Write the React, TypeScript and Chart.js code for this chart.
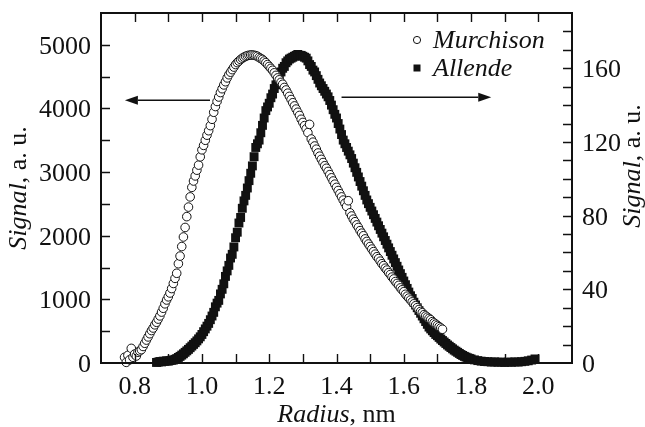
import React, { useEffect, useRef } from "react";
import { Chart, registerables } from "chart.js";

Chart.register(...registerables);

// ---------- data ----------
const murchisonRadius = [
  0.77, 0.775, 0.78, 0.785, 0.79, 0.795, 0.8, 0.805, 0.81, 0.815,
  0.82, 0.825, 0.83, 0.835, 0.84, 0.845, 0.85, 0.855, 0.86, 0.865,
  0.87, 0.875, 0.88, 0.885, 0.89, 0.895, 0.9, 0.905, 0.91, 0.915,
  0.92, 0.925, 0.93, 0.935, 0.94, 0.945, 0.95, 0.955, 0.96, 0.965,
  0.97, 0.975, 0.98, 0.985, 0.99, 0.995, 1.0, 1.005, 1.01, 1.015,
  1.02, 1.025, 1.03, 1.035, 1.04, 1.045, 1.05, 1.055, 1.06, 1.065,
  1.07, 1.075, 1.08, 1.085, 1.09, 1.095, 1.1, 1.105, 1.11, 1.115,
  1.12, 1.125, 1.13, 1.135, 1.14, 1.145, 1.15, 1.155, 1.16, 1.165,
  1.17, 1.175, 1.18, 1.185, 1.19, 1.195, 1.2, 1.205, 1.21, 1.215,
  1.22, 1.225, 1.23, 1.235, 1.24, 1.245, 1.25, 1.255, 1.26, 1.265,
  1.27, 1.275, 1.28, 1.285, 1.29, 1.295, 1.3, 1.305, 1.31, 1.315,
  1.32, 1.325, 1.33, 1.335, 1.34, 1.345, 1.35, 1.355, 1.36, 1.365,
  1.37, 1.375, 1.38, 1.385, 1.39, 1.395, 1.4, 1.405, 1.41, 1.415,
  1.42, 1.425, 1.43, 1.435, 1.44, 1.445, 1.45, 1.455, 1.46, 1.465,
  1.47, 1.475, 1.48, 1.485, 1.49, 1.495, 1.5, 1.505, 1.51, 1.515,
  1.52, 1.525, 1.53, 1.535, 1.54, 1.545, 1.55, 1.555, 1.56, 1.565,
  1.57, 1.575, 1.58, 1.585, 1.59, 1.595, 1.6, 1.605, 1.61, 1.615,
  1.62, 1.625, 1.63, 1.635, 1.64, 1.645, 1.65, 1.655, 1.66, 1.665,
  1.67, 1.675, 1.68, 1.685, 1.69, 1.695, 1.7, 1.705, 1.71, 1.715,
];
const murchisonSignal = [
  90, 10, 120, 50, 230, 90, 140, 110, 170, 190,
  210, 260, 310, 360, 410, 460, 510, 550, 600, 640,
  690, 740, 800, 860, 930, 990, 1040, 1100, 1170, 1250,
  1330, 1410, 1560, 1680, 1830, 1980, 2130, 2300, 2450, 2610,
  2760, 2860, 2940, 3030, 3110, 3240, 3350, 3420, 3500, 3580,
  3650, 3730, 3830, 3940, 4030, 4110, 4180, 4250, 4310, 4370,
  4420, 4480, 4530, 4570, 4610, 4650, 4690, 4720, 4745, 4770,
  4790, 4805, 4820, 4830, 4835, 4840, 4840, 4835, 4830, 4820,
  4800, 4785, 4770, 4745, 4720, 4690, 4660, 4630, 4600, 4560,
  4520, 4480, 4450, 4410, 4380, 4330, 4290, 4240, 4190, 4140,
  4090, 4040, 3990, 3940, 3890, 3830, 3780, 3730, 3680, 3620,
  3750, 3520, 3470, 3410, 3360, 3300, 3250, 3200, 3150, 3100,
  3060, 3010, 2960, 2910, 2860, 2810, 2760, 2710, 2660, 2610,
  2560, 2510, 2460, 2550, 2360, 2310, 2260, 2220, 2170, 2130,
  2080, 2040, 2000, 1950, 1910, 1870, 1830, 1790, 1750, 1710,
  1670, 1640, 1600, 1560, 1530, 1490, 1460, 1420, 1390, 1350,
  1320, 1280, 1250, 1220, 1180, 1150, 1120, 1080, 1050, 1020,
  990, 960, 930, 900, 870, 840, 810, 790, 760, 740,
  720, 700, 680, 650, 630, 610, 590, 570, 550, 530,
];

const allendeRadius = [
  0.865, 0.87, 0.875, 0.88, 0.885, 0.89, 0.895, 0.9, 0.905, 0.91,
  0.915, 0.92, 0.925, 0.93, 0.935, 0.94, 0.945, 0.95, 0.955, 0.96,
  0.965, 0.97, 0.975, 0.98, 0.985, 0.99, 0.995, 1.0, 1.005, 1.01,
  1.015, 1.02, 1.025, 1.03, 1.035, 1.04, 1.045, 1.05, 1.055, 1.06,
  1.065, 1.07, 1.075, 1.08, 1.085, 1.09, 1.095, 1.1, 1.105, 1.11,
  1.115, 1.12, 1.125, 1.13, 1.135, 1.14, 1.145, 1.15, 1.155, 1.16,
  1.165, 1.17, 1.175, 1.18, 1.185, 1.19, 1.195, 1.2, 1.205, 1.21,
  1.215, 1.22, 1.225, 1.23, 1.235, 1.24, 1.245, 1.25, 1.255, 1.26,
  1.265, 1.27, 1.275, 1.28, 1.285, 1.29, 1.295, 1.3, 1.305, 1.31,
  1.315, 1.32, 1.325, 1.33, 1.335, 1.34, 1.345, 1.35, 1.355, 1.36,
  1.365, 1.37, 1.375, 1.38, 1.385, 1.39, 1.395, 1.4, 1.405, 1.41,
  1.415, 1.42, 1.425, 1.43, 1.435, 1.44, 1.445, 1.45, 1.455, 1.46,
  1.465, 1.47, 1.475, 1.48, 1.485, 1.49, 1.495, 1.5, 1.505, 1.51,
  1.515, 1.52, 1.525, 1.53, 1.535, 1.54, 1.545, 1.55, 1.555, 1.56,
  1.565, 1.57, 1.575, 1.58, 1.585, 1.59, 1.595, 1.6, 1.605, 1.61,
  1.615, 1.62, 1.625, 1.63, 1.635, 1.64, 1.645, 1.65, 1.655, 1.66,
  1.665, 1.67, 1.675, 1.68, 1.685, 1.69, 1.695, 1.7, 1.705, 1.71,
  1.715, 1.72, 1.725, 1.73, 1.735, 1.74, 1.745, 1.75, 1.755, 1.76,
  1.765, 1.77, 1.775, 1.78, 1.785, 1.79, 1.795, 1.8,
  1.81, 1.82, 1.83, 1.84, 1.85, 1.86, 1.87, 1.88, 1.89, 1.9,
  1.91, 1.92, 1.93, 1.94, 1.95, 1.96, 1.97, 1.98, 1.99,
];
const allendeSignal = [
  0.3, 0.5, 0.8, 0.6, 1.0, 0.9, 1.2, 1.0, 1.3, 1.5,
  1.6, 2.0, 2.4, 3.0, 3.6, 4.3, 5.0, 5.8, 6.6, 7.4,
  8.3, 9.2, 10.1, 11.0, 12.0, 13.1, 14.2, 15.5, 17.0, 18.5,
  20.0, 21.5, 23.5, 25.5, 27.5, 30.5, 32.5, 34, 37.5, 40,
  43, 47, 50, 53, 57, 59, 63, 68, 71, 76,
  79, 84, 88, 91, 95, 99, 103, 107, 112, 117,
  119, 121, 125, 129, 133, 137, 139, 141, 144, 146,
  149, 151, 153, 156, 158, 160, 161, 163, 164, 165,
  165.5, 166, 166.5, 167, 167.5, 167, 167, 166.5, 166, 165.5,
  164, 162, 161, 159, 158, 156, 154, 152, 150.5, 149,
  147.5, 146, 144.5, 142.5, 140, 137.5, 135, 133, 130, 127,
  124, 121, 119, 117, 115, 113, 111, 108.5, 106, 103.5,
  101, 98.5, 96, 93.5, 91, 88.5, 86.5, 84.5, 82.5, 80.5,
  78.5, 76.5, 74.5, 72.5, 70.5, 68.5, 66.5, 64.5, 62.5, 60.5,
  58.5, 56.5, 54.5, 52.5, 50.5, 48.5, 46.5, 44.5, 42.5, 40.5,
  38.5, 36.5, 35, 33, 31.5, 30, 28.5, 27, 25.5, 24,
  22.5, 21, 19.5, 18.5, 17.5, 16.5, 15.5, 14.8, 13.9, 13.0,
  12.2, 11.4, 10.6, 9.8, 9.1, 8.4, 7.7, 7.0, 6.4, 5.8,
  5.2, 4.6, 4.1, 3.6, 3.2, 2.8, 2.5, 2.2,
  1.7, 1.3, 1.0, 0.8, 0.7, 0.5, 0.6, 0.4, 0.5, 0.3,
  0.5, 0.4, 0.6, 0.5, 0.7, 0.9, 1.2, 1.6, 2.2,
];

const seriesNames = ["Murchison", "Allende"];

const xTickValues = [0.8, 1.0, 1.2, 1.4, 1.6, 1.8, 2.0];
const xTickLabels = ["0.8", "1.0", "1.2", "1.4", "1.6", "1.8", "2.0"];
const xMinorValues = [0.8, 0.9, 1.0, 1.1, 1.2, 1.3, 1.4, 1.5, 1.6, 1.7, 1.8, 1.9, 2.0];
const leftTickValues = [0, 1000, 2000, 3000, 4000, 5000];
const leftTickLabels = ["0", "1000", "2000", "3000", "4000", "5000"];
const leftMinorValues = [500, 1000, 1500, 2000, 2500, 3000, 3500, 4000, 4500, 5000];
const rightTickValues = [0, 40, 80, 120, 160];
const rightTickLabels = ["0", "40", "80", "120", "160"];
const rightMinorValues = [10, 20, 30, 40, 50, 60, 70, 80, 90, 100, 110, 120, 130, 140, 150, 160, 170, 180];

// arrows: [fromRadius, toRadius, leftSignalLevel]
const leftArrow = [1.024, 0.771, 4130];
const rightArrow = [1.415, 1.86, 4175];

const FONT_FAMILY = '"Liberation Serif", "Times New Roman", serif';
const FS = 26;

type Run = { text: string; italic?: boolean };

function drawRuns(ctx: CanvasRenderingContext2D, runs: Run[], x: number, y: number, align: "center" | "left") {
  let total = 0;
  for (const r of runs) {
    ctx.font = `${r.italic ? "italic " : ""}${FS}px ${FONT_FAMILY}`;
    total += ctx.measureText(r.text).width;
  }
  let cx = align === "center" ? x - total / 2 : x;
  ctx.textAlign = "left";
  for (const r of runs) {
    ctx.font = `${r.italic ? "italic " : ""}${FS}px ${FONT_FAMILY}`;
    ctx.fillText(r.text, cx, y);
    cx += ctx.measureText(r.text).width;
  }
}

function drawArrow(ctx: CanvasRenderingContext2D, x1: number, x2: number, y: number) {
  const dir = Math.sign(x2 - x1);
  const headLen = 13;
  const headHalf = 4.5;
  ctx.beginPath();
  ctx.moveTo(x1, y);
  ctx.lineTo(x2 - dir * headLen, y);
  ctx.lineWidth = 1.5;
  ctx.stroke();
  ctx.beginPath();
  ctx.moveTo(x2, y);
  ctx.lineTo(x2 - dir * headLen, y - headHalf);
  ctx.lineTo(x2 - dir * headLen, y + headHalf);
  ctx.closePath();
  ctx.fill();
}

const decorPlugin = {
  id: "decor",
  afterDatasetsDraw(chart: any) {
    const { ctx, chartArea, scales } = chart;
    const { left, right, top, bottom } = chartArea;
    const xs = scales.x;
    const yl = scales.y;
    const yr = scales.y1;
    ctx.save();
    ctx.strokeStyle = "#111";
    ctx.fillStyle = "#111";

    // frame
    ctx.lineWidth = 2;
    ctx.strokeRect(left, top, right - left, bottom - top);

    // inward ticks
    const TL = 9;
    ctx.lineWidth = 1.4;
    ctx.beginPath();
    for (const v of xMinorValues) {
      const px = Math.round(xs.getPixelForValue(v)) + 0.5;
      ctx.moveTo(px, bottom);
      ctx.lineTo(px, bottom - TL);
      ctx.moveTo(px, top);
      ctx.lineTo(px, top + TL);
    }
    for (const v of leftMinorValues) {
      const py = Math.round(yl.getPixelForValue(v)) + 0.5;
      ctx.moveTo(left, py);
      ctx.lineTo(left + TL, py);
    }
    for (const v of rightMinorValues) {
      const py = Math.round(yr.getPixelForValue(v)) + 0.5;
      ctx.moveTo(right, py);
      ctx.lineTo(right - TL, py);
    }
    ctx.stroke();

    // tick labels
    ctx.font = `${FS}px ${FONT_FAMILY}`;
    ctx.textBaseline = "alphabetic";
    ctx.textAlign = "center";
    xTickValues.forEach((v, i) => {
      ctx.fillText(xTickLabels[i], xs.getPixelForValue(v), bottom + 31);
    });
    ctx.textAlign = "right";
    leftTickValues.forEach((v, i) => {
      ctx.fillText(leftTickLabels[i], left - 10, yl.getPixelForValue(v) + 9);
    });
    ctx.textAlign = "left";
    rightTickValues.forEach((v, i) => {
      ctx.fillText(rightTickLabels[i], right + 10, yr.getPixelForValue(v) + 9);
    });

    // axis titles
    drawRuns(ctx, [{ text: "Radius", italic: true }, { text: ", nm" }], (left + right) / 2, bottom + 59, "center");

    ctx.save();
    ctx.translate(left - 75, (top + bottom) / 2);
    ctx.rotate(-Math.PI / 2);
    drawRuns(ctx, [{ text: "Signal", italic: true }, { text: ", a. u." }], 0, 0, "center");
    ctx.restore();

    ctx.save();
    ctx.translate(right + 68, (top + bottom) / 2 - 22);
    ctx.rotate(-Math.PI / 2);
    drawRuns(ctx, [{ text: "Signal", italic: true }, { text: ", a. u." }], 0, 0, "center");
    ctx.restore();

    // legend
    const lx = right - 155;
    ctx.lineWidth = 1;
    ctx.beginPath();
    ctx.arc(lx, top + 27, 3.6, 0, Math.PI * 2);
    ctx.stroke();
    ctx.fillRect(lx - 3.5, top + 51.5, 7, 7);
    drawRuns(ctx, [{ text: seriesNames[0], italic: true }], lx + 16, top + 35, "left");
    drawRuns(ctx, [{ text: seriesNames[1], italic: true }], lx + 16, top + 63, "left");

    // arrows
    drawArrow(ctx, xs.getPixelForValue(leftArrow[0]), xs.getPixelForValue(leftArrow[1]), yl.getPixelForValue(leftArrow[2]));
    drawArrow(ctx, xs.getPixelForValue(rightArrow[0]), xs.getPixelForValue(rightArrow[1]), yl.getPixelForValue(rightArrow[2]));

    ctx.restore();
  },
};

export default function App() {
  const ref = useRef<HTMLCanvasElement>(null);
  useEffect(() => {
    if (!ref.current) return;
    const chart = new Chart(ref.current, {
      type: "scatter",
      data: {
        datasets: [
          {
            label: seriesNames[0],
            data: murchisonRadius.map((r, i) => ({ x: r, y: murchisonSignal[i] })),
            yAxisID: "y",
            pointStyle: "circle",
            pointRadius: 4.3,
            pointBorderWidth: 1,
            borderColor: "#111",
            backgroundColor: "#fff",
            showLine: false,
            clip: false,
          } as any,
          {
            label: seriesNames[1],
            data: allendeRadius.map((r, i) => ({ x: r, y: allendeSignal[i] })),
            yAxisID: "y1",
            pointStyle: "rect",
            pointRadius: 6.3,
            pointBorderWidth: 0,
            borderColor: "#111",
            backgroundColor: "#111",
            showLine: false,
            clip: false,
          } as any,
        ],
      },
      options: {
        responsive: false,
        animation: false,
        events: [],
        layout: { padding: { left: 101, right: 73, top: 13, bottom: 64 } },
        scales: {
          x: { type: "linear", min: 0.7, max: 2.1, display: false },
          y: { type: "linear", min: 0, max: 5500, display: false },
          y1: { type: "linear", min: 0, max: 190, display: false, position: "right" },
        },
        plugins: {
          legend: { display: false },
          tooltip: { enabled: false },
        },
      },
      plugins: [decorPlugin],
    });
    return () => chart.destroy();
  }, []);
  return (
    <div style={{ position: "fixed", left: 0, top: 0, width: 645, height: 427, background: "#fff" }}>
      <canvas ref={ref} width={645} height={427} style={{ display: "block", width: 645, height: 427 }} />
    </div>
  );
}
